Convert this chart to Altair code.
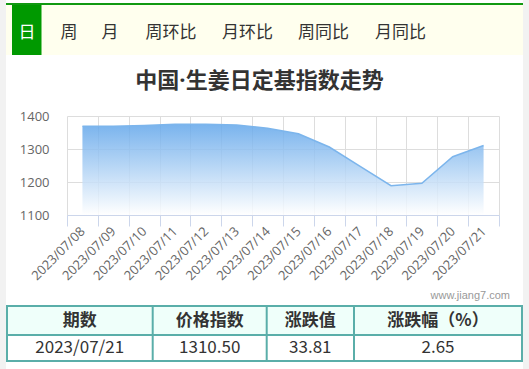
import altair as alt
import pandas as pd

# ---- data ----
dates = ["2023/07/08", "2023/07/09", "2023/07/10", "2023/07/11", "2023/07/12",
         "2023/07/13", "2023/07/14", "2023/07/15", "2023/07/16", "2023/07/17",
         "2023/07/18", "2023/07/19", "2023/07/20", "2023/07/21"]
values = [1369, 1369, 1371, 1375, 1375, 1373, 1363, 1346, 1306, 1247,
          1189, 1196, 1276.69, 1310.50]
y_ticks = [1100, 1200, 1300, 1400]
tabs = ["日", "周", "月", "周环比", "月环比", "周同比", "月同比"]
title_text = "中国·生姜日定基指数走势"
table_headers = ["期数", "价格指数", "涨跌值", "涨跌幅（%）"]
source_text = "www.jiang7.com"

last = values[-1]
chg = last - values[-2]
pct = chg / values[-2] * 100
table_values = [dates[-1], f"{last:.2f}", f"{chg:.2f}", f"{pct:.2f}"]

df = pd.DataFrame({"date": dates, "value": values})

CJK = "Noto Sans CJK SC"
LAT = "Open Sans"
TEAL = "#5aaea9"

one = alt.Data(values=[{}])


def rect(x, x2, y, y2, fill, stroke=None, sw=0):
    kw = dict(fill=fill)
    if stroke:
        kw.update(stroke=stroke, strokeWidth=sw)
    else:
        kw.update(strokeWidth=0)
    return alt.Chart(one).mark_rect(**kw).encode(
        x=alt.value(x), x2=alt.value(x2), y=alt.value(y), y2=alt.value(y2))


def text(t, x, y, size, color="#333333", bold=False, font=CJK, align="center"):
    return alt.Chart(alt.Data(values=[{"t": t}])).mark_text(
        font=font, fontSize=size, color=color,
        fontWeight="bold" if bold else "normal",
        align=align, baseline="middle").encode(
        x=alt.value(x), y=alt.value(y), text="t:N")


def vrule(x, y, y2, color, sw):
    return alt.Chart(one).mark_rule(color=color, strokeWidth=sw).encode(
        x=alt.value(x), y=alt.value(y), y2=alt.value(y2))


# ---- main chart ----
xenc = alt.X("date:O", bandPosition=0.5, sort=None,
             scale=alt.Scale(type="band", paddingInner=0, paddingOuter=0),
             axis=alt.Axis(title=None, labelAngle=-45, labelAlign="right",
                           labelBaseline="middle", tickBand="extent", grid=True,
                           gridColor="#dddddd", domainColor="#ccd6eb",
                           tickColor="#ccd6eb", tickSize=11, labelPadding=3,
                           labelFont=LAT, labelFontSize=13, labelColor="#666666",
                           labelOverlap=False))
yenc = alt.Y("value:Q", scale=alt.Scale(domain=[1100, 1400], nice=False, zero=False),
             axis=alt.Axis(title=None, values=y_ticks, grid=True, gridColor="#dddddd",
                           domain=False, ticks=False, labelPadding=18, format="d",
                           labelFont=LAT, labelFontSize=13, labelColor="#666666"))

grad = alt.Gradient(gradient="linear",
                    stops=[alt.GradientStop(color="#62a6ea", offset=0),
                           alt.GradientStop(color="#ffffff", offset=1)],
                    x1=1, x2=1, y1=0, y2=1)

area = alt.Chart(df).mark_area(color=grad, opacity=0.85).encode(
    x=xenc, y=yenc, y2=alt.datum(y_ticks[0]))
line = alt.Chart(df).mark_line(color="#7cb5ec", strokeWidth=1.5).encode(x=xenc, y=yenc)

layers = []
# side margins
layers.append(rect(-67, -61, -116, 253, "#f2f2f2"))
layers.append(rect(456, 462, -116, 253, "#f2f2f2"))
# tab bar
layers.append(rect(-61, 456, -111, -61, "#ffffee"))
layers.append(rect(-61, 456, -113, -111, "#119911"))
layers.append(rect(-55, -25.5, -111, -61, "#009900"))
tab_x = [-40, 2, 43, 104, 180.5, 256.5, 333.5]
for i, (t, x) in enumerate(zip(tabs, tab_x)):
    layers.append(text(t, x, -83, 17, color="#ffffff" if i == 0 else "#333333"))
# title
layers.append(text(title_text, 192.5, -35, 22, bold=True,
                   font="Open Sans, Noto Sans CJK SC"))
# source
layers.append(text(source_text, 443, 180, 11, color="#999999",
                   font="Liberation Sans", align="right"))
# table
layers.append(rect(-60, 455, 190, 219, "#effffa", TEAL, 2))
layers.append(rect(-60, 455, 219, 245, "#ffffff", TEAL, 2))
for sx in [85.7, 199.7, 287]:
    layers.append(vrule(sx, 190, 245, TEAL, 2))
col_x = [12.7, 142.7, 243.3, 371]
for h, v, cx in zip(table_headers, table_values, col_x):
    layers.append(text(h, cx, 204.5, 17, bold=True))
    layers.append(text(v, cx, 232, 17))

chart = alt.layer(*layers, area, line).properties(
    width=432, height=99,
    autosize=alt.AutoSizeParams(type="none"),
    padding={"left": 67, "top": 116, "right": 30, "bottom": 154},
    background="#ffffff",
).configure_view(strokeWidth=0)

chart.save("out.html", embed_options={"renderer": "svg", "actions": False})
